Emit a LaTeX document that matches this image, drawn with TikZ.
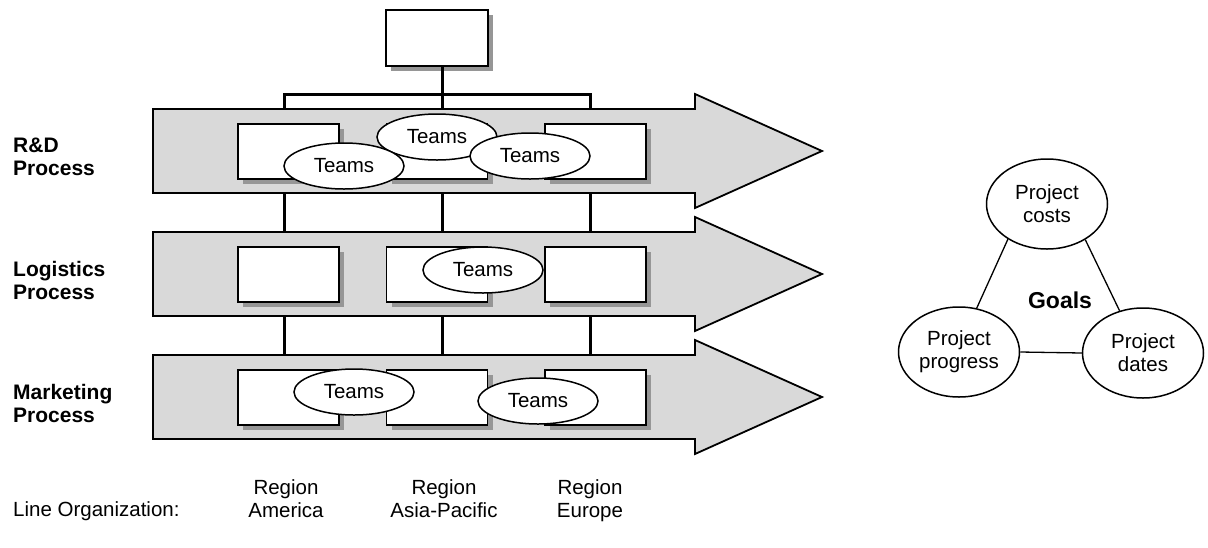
\documentclass[tikz,border=0pt]{standalone}
\usepackage{fontspec}
\setmainfont{Liberation Sans}
\usetikzlibrary{shapes.geometric,shadows}

\definecolor{flowgray}{RGB}{217,217,217}
\definecolor{shadowgray}{RGB}{150,150,150}

\begin{document}
\begin{tikzpicture}[x=1pt,y=-1pt,
  txt/.style={font=\fontsize{20.5}{23}\selectfont, align=center, inner sep=0pt},
  lab/.style={font=\fontsize{21}{23}\selectfont\bfseries, align=left, inner sep=0pt, anchor=west},
  conn/.style={line width=3pt, line join=miter},
  flow/.style={draw=black, line width=1.8pt, fill=flowgray, line join=miter},
  unit/.style={draw=black, line width=1.8pt, fill=white, inner sep=0pt,
    minimum width=101pt, minimum height=55pt,
    drop shadow={shadow xshift=5pt, shadow yshift=-5pt, fill=shadowgray, opacity=1}},
  team/.style={ellipse, draw=black, line width=1.5pt, fill=white, inner sep=0pt,
    minimum width=120pt, minimum height=46pt, txt},
  goal/.style={ellipse, draw=black, line width=1.5pt, fill=white, inner sep=0pt,
    minimum width=121pt, minimum height=90pt, txt},
  region/.style={txt, anchor=north},
  link/.style={line width=1.3pt}
]
\useasboundingbox (0,0) rectangle (1208,547);

% head of the line organization
\node[unit, minimum width=102pt, minimum height=56pt] (top) at (437,38) {};

% columns of the line organization
\coordinate (hub)  at (442,94);
\coordinate (barL) at (284,94);
\coordinate (barR) at (590,94);

% edges of the three process arrows
\foreach \r/\o in {1/0,2/123,3/246}{
  \coordinate (f\r n) at (153,109+\o);
  \coordinate (f\r s) at (153,193+\o);
}

% connectors
\draw[conn] (top.south -| hub) -- (hub |- f1n);
\draw[conn] (barL |- f1n) -- (barL) -- (barR) -- (barR |- f1n);
\foreach \c in {barL,hub,barR}{
  \draw[conn] (\c |- f1s) -- (\c |- f2n);
  \draw[conn] (\c |- f2s) -- (\c |- f3n);
}

% process arrows
\foreach \o in {0,123,246}{
  \draw[flow] (153,109+\o) -- (695,109+\o) -- (695,94+\o) -- (822,151+\o)
    -- (695,208+\o) -- (695,193+\o) -- (153,193+\o) -- cycle;
}

% regional units in each process
\foreach \r/\y in {1/151.5,2/274.5,3/397.5}{
  \node[unit] (u\r a) at (288.5,\y) {};
  \node[unit] (u\r b) at (437,\y) {};
  \node[unit] (u\r c) at (595.5,\y) {};
}

% teams
\node[team] (t1b) at (437,137) {Teams};
\node[team] (t1a) at (344,166) {Teams};
\node[team] (t1c) at (530,156) {Teams};
\node[team] (t2a) at (483,270) {Teams};
\node[team] (t3a) at (354,392) {Teams};
\node[team] (t3b) at (538,401) {Teams};

% process labels
\node[lab] (lrd)  at (13,157) {R\&D\\Process};
\node[lab] (llog) at (13,280) {Logistics\\Process};
\node[lab] (lmkt) at (13,403) {Marketing\\Process};

% line organization labels
\node[txt, anchor=base west] (lorg) at (13,516) {Line Organization:};
\node[region] (ram) at (286,479) {Region\\America};
\node[region] (rap) at (444,479) {Region\\Asia-Pacific};
\node[region] (reu) at (590,479) {Region\\Europe};

% goals triangle
\node[goal] (costs)    at (1047,204) {Project\\costs};
\node[goal] (progress) at (959,352)  {Project\\progress};
\node[goal] (dates)    at (1143,353) {Project\\dates};
\node[font=\fontsize{23}{25}\selectfont\bfseries, inner sep=0pt] (goals) at (1060,300) {Goals};
\draw[link] (costs.222) -- (progress.68);
\draw[link] (costs.317) -- (dates.119);
\draw[link] (progress.east) -- (dates.west);
\end{tikzpicture}
\end{document}
